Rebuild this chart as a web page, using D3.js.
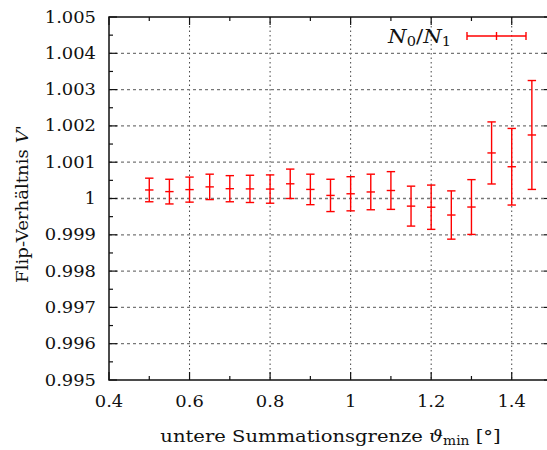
<!DOCTYPE html>
<html>
<head>
<meta charset="utf-8">
<script src="https://cdn.jsdelivr.net/npm/d3@7/dist/d3.min.js"></script>
<style>
  html, body { margin: 0; padding: 0; background: #fff; }
  svg { display: block; }
  text { font-family: "DejaVu Serif", "Liberation Serif", serif; fill: #111; }
</style>
</head>
<body>
<svg id="chart" width="547" height="450"></svg>
<script>
// Lower summation limit (degrees)
const thetaMin = [0.50, 0.55, 0.60, 0.65, 0.70, 0.75, 0.80, 0.85, 0.90, 0.95,
                  1.00, 1.05, 1.10, 1.15, 1.20, 1.25, 1.30, 1.35, 1.40, 1.45];
// Flip ratio V' = N0/N1
const ratio = [1.000235, 1.00019, 1.000245, 1.00032, 1.00027, 1.000265, 1.00026, 1.000405, 1.00025, 1.000085,
               1.00013, 1.00018, 1.00022, 0.99979, 0.99976, 0.999545, 0.999765, 1.001255, 1.000875, 1.00175];
// Statistical uncertainty of V'
const ratioErr = [0.000325, 0.00034, 0.000345, 0.00035, 0.00036, 0.000375, 0.00039, 0.000405, 0.00042, 0.000445,
                  0.00047, 0.00049, 0.00052, 0.00055, 0.00061, 0.000665, 0.000755, 0.000855, 0.001055, 0.0015];

const xTicks = [0.4, 0.6, 0.8, 1.0, 1.2, 1.4];
const xMinor = [0.5, 0.7, 0.9, 1.1, 1.3];
const yTicks = [0.995, 0.996, 0.997, 0.998, 0.999, 1.000, 1.001, 1.002, 1.003, 1.004, 1.005];
const yTickLabels = ["0.995", "0.996", "0.997", "0.998", "0.999", "1", "1.001", "1.002", "1.003", "1.004", "1.005"];
const yMinor = d3.range(0, 10).map(i => 0.9955 + i * 0.001);

const svg = d3.select("#chart");
const L = 109, R = 552, T = 17, B = 380;
const x = d3.scaleLinear().domain([0.4, 1.5]).range([L, R]);
const y = d3.scaleLinear().domain([0.995, 1.005]).range([B, T]);

const red = "#ff0000";

// text placed at (px, py), stretched horizontally by sx, optionally rotated
function label(px, py, anchor, size, sx, rot = 0) {
  return svg.append("g")
    .attr("transform", `translate(${px},${py}) rotate(${rot}) scale(${sx},1)`)
    .append("text").attr("text-anchor", anchor).style("font-size", size + "px");
}

// grid
const grid = svg.append("g").attr("stroke", "#444").attr("stroke-width", 1).attr("stroke-dasharray", "1.5,3");
grid.selectAll("line.gx").data(xTicks.slice(1)).join("line")
  .attr("x1", d => x(d)).attr("x2", d => x(d)).attr("y1", T).attr("y2", B);
grid.selectAll("line.gy").data(yTicks.slice(1, -1)).join("line")
  .attr("x1", L).attr("x2", R).attr("y1", d => y(d)).attr("y2", d => y(d))
  .attr("stroke", "#777").attr("stroke-dasharray", "3,3").attr("stroke-width", 1.3);

// frame
svg.append("rect").attr("x", L).attr("y", T).attr("width", R - L).attr("height", B - T)
  .attr("fill", "none").attr("stroke", "#111").attr("stroke-width", 1.5);

// inward ticks, all four sides
const tk = svg.append("g").attr("stroke", "#111").attr("stroke-width", 1.2);
const maj = 8, mnr = 4;
xTicks.forEach(v => {
  tk.append("line").attr("x1", x(v)).attr("x2", x(v)).attr("y1", B).attr("y2", B - maj);
  tk.append("line").attr("x1", x(v)).attr("x2", x(v)).attr("y1", T).attr("y2", T + maj);
});
xMinor.forEach(v => {
  tk.append("line").attr("x1", x(v)).attr("x2", x(v)).attr("y1", B).attr("y2", B - mnr);
  tk.append("line").attr("x1", x(v)).attr("x2", x(v)).attr("y1", T).attr("y2", T + mnr);
});
yTicks.forEach(v => {
  tk.append("line").attr("x1", L).attr("x2", L + maj).attr("y1", y(v)).attr("y2", y(v));
  tk.append("line").attr("x1", R).attr("x2", R - maj).attr("y1", y(v)).attr("y2", y(v));
});
yMinor.forEach(v => {
  tk.append("line").attr("x1", L).attr("x2", L + mnr).attr("y1", y(v)).attr("y2", y(v));
  tk.append("line").attr("x1", R).attr("x2", R - mnr).attr("y1", y(v)).attr("y2", y(v));
});

// tick labels
xTicks.forEach(v => label(x(v), 407, "middle", 16, 1.12).text(d3.format("~g")(v)));
yTicks.forEach((v, i) => label(96, y(v) + 5.5, "end", 16, 1.12).text(yTickLabels[i]));

// axis titles
const xl = label((L + R) / 2, 442, "middle", 17, 1.15);
xl.append("tspan").text("untere Summationsgrenze ");
xl.append("tspan").style("font-style", "italic").text("ϑ");
xl.append("tspan").attr("dy", 3).style("font-size", "12px").text("min");
xl.append("tspan").attr("dy", -3).text(" [°]");

const yl = label(28, 204, "middle", 16.5, 1.1, -90);
yl.append("tspan").text("Flip-Verhältnis ");
yl.append("tspan").style("font-style", "italic").text("V");
yl.append("tspan").style("font-style", "italic").style("font-size", "17px").text("'");

// error bars
const bars = svg.append("g").attr("stroke", red).attr("stroke-width", 1.4);
const cap = 4.2;
thetaMin.forEach((t, i) => {
  const cx = x(t), lo = y(ratio[i] - ratioErr[i]), hi = y(ratio[i] + ratioErr[i]), c = y(ratio[i]);
  bars.append("line").attr("x1", cx).attr("x2", cx).attr("y1", lo).attr("y2", hi);
  bars.append("line").attr("x1", cx - cap).attr("x2", cx + cap).attr("y1", lo).attr("y2", lo);
  bars.append("line").attr("x1", cx - cap).attr("x2", cx + cap).attr("y1", hi).attr("y2", hi);
  bars.append("line").attr("x1", cx - cap).attr("x2", cx + cap).attr("y1", c).attr("y2", c);
});

// legend
const lt = label(451, 43, "end", 19, 1.12);
lt.append("tspan").style("font-style", "italic").text("N");
lt.append("tspan").attr("dy", 3).style("font-size", "13px").text("0");
lt.append("tspan").attr("dy", -3).text("/");
lt.append("tspan").style("font-style", "italic").text("N");
lt.append("tspan").attr("dy", 3).style("font-size", "13px").text("1");
const lg = svg.append("g").attr("stroke", red).attr("stroke-width", 1.4);
const ly = 36, lx1 = 467, lx2 = 526;
lg.append("line").attr("x1", lx1).attr("x2", lx2).attr("y1", ly).attr("y2", ly);
[lx1, (lx1 + lx2) / 2, lx2].forEach(v => {
  lg.append("line").attr("x1", v).attr("x2", v).attr("y1", ly - 4).attr("y2", ly + 4);
});
</script>
</body>
</html>
